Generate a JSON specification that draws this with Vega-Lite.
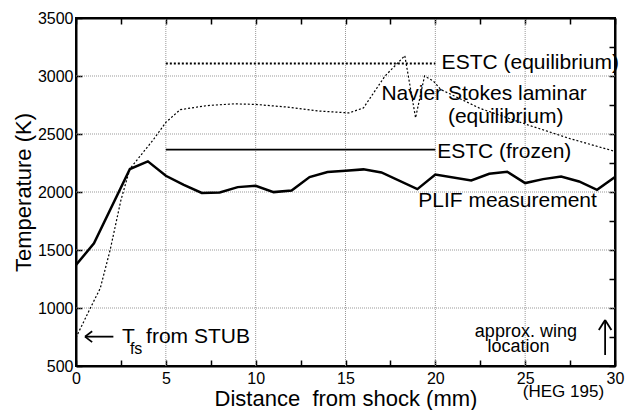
{
  "$schema": "https://vega.github.io/schema/vega-lite/v6.json",
  "width": 539,
  "height": 348,
  "autosize": "none",
  "padding": {"left": 76, "top": 18, "right": 11, "bottom": 44},
  "background": "white",
  "config": {
    "font": "Liberation Sans",
    "view": {"stroke": "black", "strokeWidth": 2},
    "axis": {
      "domainColor": "black", "domainWidth": 2, "zindex": 1,
      "tickColor": "black", "tickWidth": 1.5, "tickSize": -6,
      "labelColor": "black", "labelFontSize": 16, "labelOverlap": false, "labelFlush": false,
      "titleColor": "black", "titleFontWeight": "normal"
    },
    "text": {"font": "Liberation Sans", "color": "black"}
  },
  "datasets": {
    "plif": [
      {"x": 0, "t": 1370}, {"x": 1, "t": 1558}, {"x": 3, "t": 2198}, {"x": 4, "t": 2264},
      {"x": 5, "t": 2140}, {"x": 6, "t": 2062}, {"x": 7, "t": 1992}, {"x": 8, "t": 1996},
      {"x": 9, "t": 2042}, {"x": 10, "t": 2054}, {"x": 11, "t": 1999}, {"x": 12, "t": 2013},
      {"x": 13, "t": 2129}, {"x": 14, "t": 2172}, {"x": 15, "t": 2183}, {"x": 16, "t": 2195},
      {"x": 17, "t": 2169}, {"x": 19, "t": 2025}, {"x": 20, "t": 2151}, {"x": 22, "t": 2100},
      {"x": 23, "t": 2157}, {"x": 24, "t": 2175}, {"x": 25, "t": 2077}, {"x": 26, "t": 2111},
      {"x": 27, "t": 2134}, {"x": 28, "t": 2091}, {"x": 29, "t": 2019}, {"x": 30, "t": 2129}
    ],
    "ns": [
      {"x": 0, "t": 745}, {"x": 0.8, "t": 1000}, {"x": 1.35, "t": 1170}, {"x": 1.9, "t": 1500},
      {"x": 2.5, "t": 1930}, {"x": 3.0, "t": 2200}, {"x": 4.3, "t": 2450}, {"x": 5.0, "t": 2600},
      {"x": 5.8, "t": 2710}, {"x": 7.3, "t": 2745}, {"x": 8.8, "t": 2760}, {"x": 10.0, "t": 2755},
      {"x": 11.9, "t": 2730}, {"x": 13.6, "t": 2697}, {"x": 15.2, "t": 2682}, {"x": 16.0, "t": 2725},
      {"x": 17.2, "t": 3000}, {"x": 18.3, "t": 3175}, {"x": 18.9, "t": 2640}, {"x": 19.4, "t": 3000},
      {"x": 19.9, "t": 2955}, {"x": 20.3, "t": 2884}, {"x": 22.5, "t": 2720}, {"x": 25.1, "t": 2581},
      {"x": 27.5, "t": 2460}, {"x": 30.0, "t": 2350}
    ],
    "estc_eq": [{"x": 5, "t": 3108}, {"x": 20, "t": 3108}],
    "estc_fr": [{"x": 5, "t": 2365}, {"x": 20, "t": 2365}],
    "gridx": [{"x": 5}, {"x": 10}, {"x": 15}, {"x": 20}, {"x": 25}],
    "gridy": [{"t": 1000}, {"t": 1500}, {"t": 2000}, {"t": 2500}, {"t": 3000}],
    "arrows": [
      {"x": 0.5, "t": 753, "x2": 2.08, "t2": 753},
      {"x": 0.5, "t": 753, "x2": 0.9, "t2": 800},
      {"x": 0.5, "t": 753, "x2": 0.9, "t2": 706},
      {"x": 29.45, "t": 595, "x2": 29.45, "t2": 897},
      {"x": 29.45, "t": 897, "x2": 29.1, "t2": 810},
      {"x": 29.45, "t": 897, "x2": 29.8, "t2": 810}
    ],
    "labels_big": [
      {"x": 20.35, "t": 3060, "label": "ESTC (equilibrium)"},
      {"x": 17.0, "t": 2793, "label": "Navier Stokes laminar"},
      {"x": 20.7, "t": 2595, "label": "(equilibrium)"},
      {"x": 20.1, "t": 2291, "label": "ESTC (frozen)"},
      {"x": 19.05, "t": 1873, "label": "PLIF measurement"},
      {"x": 2.56, "t": 698, "label": "T"},
      {"x": 3.9, "t": 698, "label": "from STUB"}
    ],
    "labels_sub": [{"x": 3.0, "t": 603, "label": "fs"}],
    "labels_wing": [
      {"x": 22.2, "t": 753, "label": "approx. wing"},
      {"x": 22.9, "t": 621, "label": "location"}
    ],
    "labels_heg": [{"x": 24.87, "t": 235, "label": "(HEG 195)"}]
  },
  "resolve": {"axis": {"x": "independent", "y": "independent"}},
  "layer": [
    {
      "layer": [
        {
          "data": {"name": "gridx"},
          "mark": {"type": "rule", "color": "#999999", "strokeWidth": 1, "strokeDash": [1, 1]},
          "encoding": {
            "x": {
              "field": "x", "type": "quantitative",
              "scale": {"domain": [0, 30], "nice": false, "zero": false},
              "axis": {
                "orient": "bottom",
                "values": [0, 2.5, 5, 7.5, 10, 12.5, 15, 17.5, 20, 22.5, 25, 27.5, 30],
                "labelExpr": "datum.value % 5 === 0 ? datum.label : ''",
                "labelPadding": 10,
                "grid": false,
                "title": "Distance\u00a0 from shock (mm)",
                "titleFontSize": 22,
                "titlePadding": 2
              }
            },
            "y": {"datum": 500, "type": "quantitative", "scale": {"domain": [500, 3500], "nice": false, "zero": false}},
            "y2": {"datum": 3500}
          }
        },
        {
          "data": {"name": "gridy"},
          "mark": {"type": "rule", "color": "#999999", "strokeWidth": 1, "strokeDash": [1, 1]},
          "encoding": {
            "y": {
              "field": "t", "type": "quantitative",
              "axis": {
                "orient": "left",
                "values": [500, 750, 1000, 1250, 1500, 1750, 2000, 2250, 2500, 2750, 3000, 3250, 3500],
                "format": "d",
                "labelExpr": "datum.value % 500 === 0 ? datum.label : ''",
                "labelPadding": 9,
                "grid": false,
                "title": "Temperature (K)",
                "titleFontSize": 22,
                "titlePadding": 2
              }
            },
            "x": {"datum": 0, "type": "quantitative"},
            "x2": {"datum": 30}
          }
        },
        {
          "data": {"name": "plif"},
          "mark": {"type": "line", "color": "black", "strokeWidth": 2.5, "clip": true},
          "encoding": {
            "x": {"field": "x", "type": "quantitative"},
            "y": {"field": "t", "type": "quantitative"}
          }
        },
        {
          "data": {"name": "ns"},
          "mark": {"type": "line", "color": "black", "strokeWidth": 1.2, "strokeDash": [2, 2], "clip": true},
          "encoding": {
            "x": {"field": "x", "type": "quantitative"},
            "y": {"field": "t", "type": "quantitative"}
          }
        },
        {
          "data": {"name": "estc_eq"},
          "mark": {"type": "line", "color": "black", "strokeWidth": 2, "strokeDash": [2, 2]},
          "encoding": {
            "x": {"field": "x", "type": "quantitative"},
            "y": {"field": "t", "type": "quantitative"}
          }
        },
        {
          "data": {"name": "arrows"},
          "mark": {"type": "rule", "color": "black", "strokeWidth": 1.8},
          "encoding": {
            "x": {"field": "x", "type": "quantitative"},
            "y": {"field": "t", "type": "quantitative"},
            "x2": {"field": "x2"},
            "y2": {"field": "t2"}
          }
        },
        {
          "data": {"name": "labels_big"},
          "mark": {"type": "text", "fontSize": 21, "align": "left", "baseline": "alphabetic"},
          "encoding": {
            "x": {"field": "x", "type": "quantitative"},
            "y": {"field": "t", "type": "quantitative"},
            "text": {"field": "label"}
          }
        },
        {
          "data": {"name": "labels_sub"},
          "mark": {"type": "text", "fontSize": 16, "align": "left", "baseline": "alphabetic"},
          "encoding": {
            "x": {"field": "x", "type": "quantitative"},
            "y": {"field": "t", "type": "quantitative"},
            "text": {"field": "label"}
          }
        },
        {
          "data": {"name": "labels_wing"},
          "mark": {"type": "text", "fontSize": 18, "align": "left", "baseline": "alphabetic"},
          "encoding": {
            "x": {"field": "x", "type": "quantitative"},
            "y": {"field": "t", "type": "quantitative"},
            "text": {"field": "label"}
          }
        },
        {
          "data": {"name": "labels_heg"},
          "mark": {"type": "text", "fontSize": 17, "align": "left", "baseline": "alphabetic"},
          "encoding": {
            "x": {"field": "x", "type": "quantitative"},
            "y": {"field": "t", "type": "quantitative"},
            "text": {"field": "label"}
          }
        }
      ]
    },
    {
      "data": {"name": "estc_fr"},
      "mark": {"type": "line", "color": "black", "strokeWidth": 1.6},
      "encoding": {
        "x": {
          "field": "x", "type": "quantitative",
          "axis": {
            "orient": "top",
            "values": [0, 2.5, 5, 7.5, 10, 12.5, 15, 17.5, 20, 22.5, 25, 27.5, 30],
            "labels": false, "grid": false, "title": null
          }
        },
        "y": {
          "field": "t", "type": "quantitative",
          "axis": {
            "orient": "right",
            "values": [500, 750, 1000, 1250, 1500, 1750, 2000, 2250, 2500, 2750, 3000, 3250, 3500],
            "labels": false, "grid": false, "title": null
          }
        }
      }
    }
  ]
}
